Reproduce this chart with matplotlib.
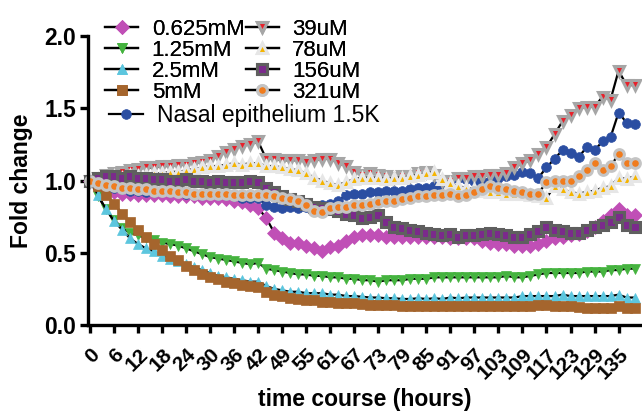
import matplotlib
matplotlib.use('Agg')
import matplotlib.pyplot as plt
from matplotlib.ticker import FormatStrFormatter

plt.rcParams['font.family'] = ['Liberation Sans', 'DejaVu Sans']

# time points (index along x), every ~2 h; tick labels every 3rd point
tick_labels = ['0', '6', '12', '18', '24', '30', '36', '42', '49', '55', '61', '67',
               '73', '79', '85', '91', '97', '103', '109', '117', '123', '129', '135']

mM_0625 = [1.00, 0.97, 0.94, 0.92, 0.91, 0.91, 0.90, 0.90, 0.90, 0.90, 0.89, 0.89,
           0.89, 0.89, 0.88, 0.88, 0.88, 0.87, 0.86, 0.85, 0.83, 0.81, 0.74, 0.64,
           0.60, 0.57, 0.57, 0.55, 0.53, 0.51, 0.54, 0.55, 0.58, 0.61, 0.62, 0.62,
           0.62, 0.61, 0.61, 0.61, 0.61, 0.61, 0.61, 0.61, 0.61, 0.60, 0.60, 0.60,
           0.60, 0.58, 0.57, 0.56, 0.56, 0.55, 0.55, 0.55, 0.56, 0.58, 0.60, 0.61,
           0.62, 0.63, 0.65, 0.68, 0.72, 0.76, 0.80, 0.76, 0.76]
mM_125 = [1.00, 0.89, 0.80, 0.73, 0.67, 0.64, 0.62, 0.60, 0.59, 0.57, 0.56, 0.55,
          0.53, 0.51, 0.49, 0.47, 0.46, 0.45, 0.44, 0.43, 0.42, 0.43, 0.39, 0.38,
          0.37, 0.36, 0.35, 0.35, 0.34, 0.34, 0.33, 0.33, 0.32, 0.32, 0.31, 0.31,
          0.30, 0.31, 0.31, 0.31, 0.32, 0.32, 0.32, 0.33, 0.33, 0.33, 0.33, 0.33,
          0.33, 0.33, 0.33, 0.33, 0.34, 0.33, 0.33, 0.34, 0.35, 0.36, 0.36, 0.36,
          0.36, 0.36, 0.37, 0.37, 0.37, 0.38, 0.38, 0.39, 0.39]
mM_25 = [1.00, 0.90, 0.80, 0.72, 0.66, 0.60, 0.56, 0.53, 0.51, 0.48, 0.46, 0.44,
         0.42, 0.40, 0.38, 0.36, 0.34, 0.33, 0.32, 0.31, 0.30, 0.30, 0.27, 0.25,
         0.24, 0.23, 0.23, 0.22, 0.22, 0.22, 0.21, 0.21, 0.20, 0.20, 0.195, 0.19,
         0.19, 0.185, 0.185, 0.18, 0.18, 0.185, 0.18, 0.185, 0.18, 0.19, 0.185, 0.19,
         0.19, 0.19, 0.19, 0.19, 0.19, 0.19, 0.20, 0.20, 0.20, 0.20, 0.20, 0.21,
         0.20, 0.20, 0.20, 0.20, 0.20, 0.20, 0.21, 0.19, 0.19]
mM_5 = [1.00, 0.96, 0.90, 0.84, 0.77, 0.71, 0.66, 0.61, 0.56, 0.52, 0.48, 0.45,
        0.41, 0.38, 0.35, 0.33, 0.32, 0.30, 0.29, 0.28, 0.27, 0.26, 0.23, 0.21,
        0.20, 0.19, 0.18, 0.17, 0.17, 0.16, 0.16, 0.155, 0.15, 0.15, 0.145, 0.14,
        0.14, 0.14, 0.135, 0.13, 0.13, 0.13, 0.13, 0.13, 0.13, 0.13, 0.13, 0.13,
        0.13, 0.13, 0.13, 0.13, 0.13, 0.13, 0.13, 0.13, 0.14, 0.14, 0.13, 0.13,
        0.13, 0.125, 0.12, 0.12, 0.12, 0.12, 0.13, 0.12, 0.12]
nasal = [1.00, 0.99, 0.97, 0.95, 0.94, 0.93, 0.93, 0.92, 0.92, 0.93, 0.92, 0.92,
         0.91, 0.91, 0.90, 0.91, 0.90, 0.90, 0.89, 0.88, 0.88, 0.88, 0.83, 0.82,
         0.81, 0.82, 0.81, 0.82, 0.82, 0.83, 0.84, 0.86, 0.90, 0.91, 0.91, 0.92,
         0.92, 0.93, 0.93, 0.93, 0.94, 0.95, 0.95, 0.96, 0.97, 1.00, 1.02, 1.01,
         1.00, 1.00, 1.00, 1.02, 1.03, 1.04, 1.06, 1.05, 1.02, 1.09, 1.15, 1.21,
         1.19, 1.16, 1.23, 1.21, 1.27, 1.30, 1.47, 1.40, 1.39]
uM_39 = [1.00, 1.02, 1.04, 1.05, 1.06, 1.07, 1.08, 1.09, 1.09, 1.10, 1.10, 1.11,
         1.11, 1.12, 1.13, 1.14, 1.17, 1.20, 1.22, 1.24, 1.25, 1.27, 1.15, 1.15,
         1.14, 1.14, 1.14, 1.13, 1.14, 1.15, 1.15, 1.12, 1.10, 1.06, 1.04, 1.05,
         1.04, 1.03, 1.02, 1.03, 1.03, 1.05, 1.06, 1.04, 1.00, 1.00, 1.02, 1.02,
         1.03, 1.03, 1.04, 1.04, 1.05, 1.09, 1.12, 1.14, 1.18, 1.23, 1.32, 1.41,
         1.45, 1.50, 1.51, 1.51, 1.58, 1.56, 1.76, 1.66, 1.66]
uM_78 = [1.00, 1.01, 1.02, 1.03, 1.02, 1.04, 1.03, 1.04, 1.05, 1.05, 1.06, 1.06,
         1.07, 1.08, 1.09, 1.10, 1.10, 1.11, 1.12, 1.11, 1.12, 1.12, 1.10, 1.10,
         1.09, 1.08, 1.07, 1.05, 1.02, 1.00, 0.98, 0.97, 0.99, 1.01, 1.02, 1.02,
         1.02, 1.01, 1.02, 1.02, 1.03, 1.04, 1.05, 1.06, 1.01, 0.98, 0.96, 0.95,
         0.94, 0.93, 0.92, 0.92, 0.91, 0.91, 0.91, 0.90, 0.89, 0.88, 0.96, 0.94,
         0.92, 0.91, 0.92, 0.93, 0.95, 0.96, 1.02, 1.01, 1.03]
uM_156 = [1.00, 1.02, 1.03, 1.03, 1.02, 1.03, 1.02, 1.02, 1.01, 1.01, 1.00, 1.00,
          1.01, 1.00, 1.00, 0.99, 1.00, 0.99, 0.99, 0.99, 1.00, 0.99, 0.95, 0.92,
          0.89, 0.87, 0.86, 0.84, 0.82, 0.81, 0.80, 0.79, 0.77, 0.76, 0.74, 0.75,
          0.76, 0.71, 0.68, 0.67, 0.66, 0.65, 0.64, 0.63, 0.62, 0.63, 0.61, 0.62,
          0.62, 0.63, 0.64, 0.63, 0.62, 0.61, 0.61, 0.63, 0.65, 0.68, 0.66, 0.65,
          0.64, 0.64, 0.66, 0.68, 0.69, 0.71, 0.75, 0.69, 0.68]
uM_321 = [1.00, 0.98, 0.97, 0.96, 0.95, 0.95, 0.94, 0.94, 0.93, 0.93, 0.93, 0.92,
          0.92, 0.91, 0.91, 0.91, 0.91, 0.91, 0.90, 0.90, 0.90, 0.90, 0.90, 0.89,
          0.88, 0.87, 0.86, 0.83, 0.79, 0.78, 0.81, 0.82, 0.82, 0.83, 0.83, 0.84,
          0.85, 0.86, 0.86, 0.87, 0.88, 0.89, 0.89, 0.90, 0.90, 0.91, 0.89, 0.90,
          0.92, 0.94, 0.96, 0.95, 0.94, 0.93, 0.92, 0.91, 0.91, 0.99, 1.00, 1.00,
          1.00, 1.03, 1.07, 1.12, 1.07, 1.10, 1.18, 1.12, 1.12]

x = list(range(len(uM_39)))

# label, data, marker, face colour, edge colour, edge width
series = [
    ('0.625mM', mM_0625, 'D', '#c04fb6', '#c04fb6', 0.5),
    ('1.25mM', mM_125, 'v', '#45b33f', '#45b33f', 0.5),
    ('2.5mM', mM_25, '^', '#5cc6de', '#5cc6de', 0.5),
    ('5mM', mM_5, 's', '#a5652d', '#a5652d', 0.5),
    ('Nasal epithelium 1.5K', nasal, 'o', '#2b4ea2', '#2b4ea2', 0.5),
    ('39uM', uM_39, 'v', '#e8202a', '#a6a6a6', 2.2),
    ('78uM', uM_78, '^', '#f5b400', '#e6e6e6', 2.2),
    ('156uM', uM_156, 's', '#7b2a8c', '#5f5f5f', 2.2),
    ('321uM', uM_321, 'o', '#f07c1e', '#c4c4c4', 2.2),
]

fig = plt.figure(figsize=(6.42, 4.12), dpi=100)
ax = fig.add_axes([88 / 642, 1 - 325 / 412, 553 / 642, 289 / 412])

handles = {}
for label, vals, mk, fc, ec, mew in series:
    h, = ax.plot(x, vals, color='black', lw=1.6, marker=mk, markersize=7,
                 markerfacecolor=fc, markeredgecolor=ec, markeredgewidth=mew,
                 label=label, clip_on=False)
    handles[label] = h

ax.set_xlim(-0.25, 68.8)
ax.set_ylim(0, 2.0)
ax.set_xticks(range(0, 67, 3))
ax.set_xticklabels(tick_labels, rotation=45, ha='right', va='top',
                   rotation_mode='anchor', fontweight='bold', fontsize=15)
ax.set_yticks([0, 0.5, 1.0, 1.5, 2.0])
ax.yaxis.set_major_formatter(FormatStrFormatter('%.1f'))
for t in ax.get_yticklabels():
    t.set_fontweight('bold')
    t.set_fontsize(16.5)

for s in ['top', 'right']:
    ax.spines[s].set_visible(False)
for s in ['left', 'bottom']:
    ax.spines[s].set_linewidth(2.4)
ax.tick_params(axis='both', width=2.4, length=5.5)
ax.tick_params(axis='x', pad=9)
ax.tick_params(axis='y', pad=3)

ax.set_ylabel('Fold change', fontsize=16.5, fontweight='bold')
ax.yaxis.set_label_coords(-0.10, 0.5)
ax.set_xlabel('time course (hours)', fontsize=16.5, fontweight='bold')
ax.xaxis.set_label_coords(0.5, -0.218)

first = ['0.625mM', '1.25mM', '2.5mM', '5mM', '39uM', '78uM', '156uM', '321uM']
leg1 = fig.legend([handles[k] for k in first], first, ncol=2, loc='upper left',
                  bbox_to_anchor=(105 / 642, 1 - 19 / 412), frameon=False,
                  fontsize=16, borderpad=0, borderaxespad=0, handlelength=1.5,
                  handletextpad=0.6, columnspacing=0.05, labelspacing=0.0,
                  numpoints=1)
leg2 = fig.legend([handles['Nasal epithelium 1.5K']], ['Nasal epithelium 1.5K'],
                  loc='upper left', bbox_to_anchor=(109 / 642, 1 - 104 / 412),
                  frameon=False, fontsize=16.5, borderpad=0, borderaxespad=0,
                  handlelength=1.5, handletextpad=0.6, numpoints=1)
fig.add_artist(leg1)

fig.savefig('out.png', dpi=100)
